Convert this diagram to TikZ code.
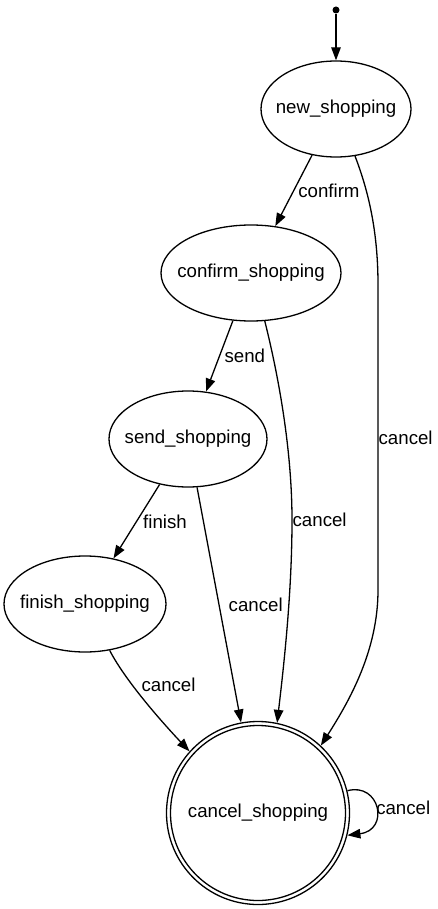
\documentclass[tikz,border=0pt]{standalone}
\usepackage{fontspec}
\setmainfont{Liberation Sans}
\usetikzlibrary{shapes.geometric,arrows.meta}
\newcommand{\nbox}[1]{\makebox[0pt][c]{#1}}
\begin{document}
\begin{tikzpicture}[x=1pt,y=-1pt, line width=1.3pt,
  >={Triangle[length=13pt,width=9.5pt]},
  txt/.style={font=\fontsize{18.67}{22}\selectfont},
  state/.style={ellipse, draw, inner sep=0pt, txt, minimum height=96pt},
  lbl/.style={txt, inner sep=0pt}]
\useasboundingbox (0,0) rectangle (437,909);
\node[circle, fill, inner sep=0pt, minimum size=7pt] (start) at (336,10) {};
\node[state, minimum width=150pt] (new) at (336,109) {\nbox{new\_shopping}};
\node[state, minimum width=180pt] (confirm) at (251,273) {\nbox{confirm\_shopping}};
\node[state, minimum width=158pt] (send) at (188,439) {\nbox{send\_shopping}};
\node[state, minimum width=162pt] (finish) at (85,604) {\nbox{finish\_shopping}};
\node[circle, draw, inner sep=0pt, minimum size=183pt, txt] (cancel) at (258,813) {\nbox{cancel\_shopping}};
\node[circle, draw, inner sep=0pt, minimum size=175pt] (cancelin) at (cancel) {};

\draw[->] (start) -- (new);
\draw[->] (new) -- node[lbl, right=4pt] {confirm} (confirm);
\draw[->] (new.-68) .. controls (368,190) and (378,230) .. (378,285)
  -- node[lbl, right] {cancel} (378,590)
  .. controls (378,650) and (350,700) .. (cancel.47);
\draw[->] (confirm) -- node[lbl, right=4.5pt] {send} (send);
\draw[->] (confirm.-74) .. controls (282,390) and (292,460) .. (292,520)
  node[lbl, right] {cancel}
  .. controls (292,600) and (282,680) .. (cancel.78);
\draw[->] (send) -- node[lbl, right=6pt] {finish} (finish);
\draw[->] (send) -- node[lbl, right=9pt] {cancel} (cancel);
\draw[->] (finish.-62) .. controls (125,680) and (160,720) .. node[lbl, pos=0.35, right=9pt] {cancel} (cancel.138);
\draw[->] (cancel.14) .. controls (380,782) and (390,830) .. node[lbl, right] {cancel} (cancel.-14);
\end{tikzpicture}
\end{document}
